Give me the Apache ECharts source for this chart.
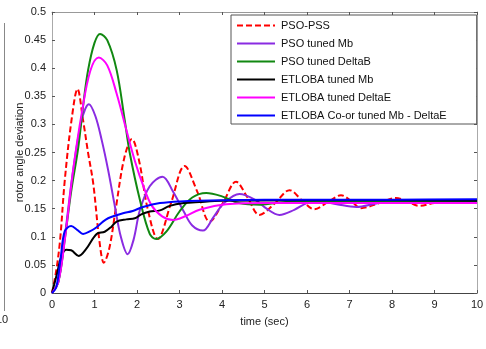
<!DOCTYPE html>
<html>
<head>
<meta charset="utf-8">
<script src="https://cdn.jsdelivr.net/npm/echarts@6/dist/echarts.min.js"></script>
<style>
html,body{margin:0;padding:0;background:#fff;}
#chart{width:486px;height:349px;}
</style>
</head>
<body>
<div id="chart"></div>
<script>
var seriesNames = ['PSO-PSS','PSO tuned Mb','PSO tuned DeltaB','ETLOBA tuned Mb','ETLOBA tuned DeltaE','ETLOBA Co-or tuned Mb - DeltaE'];

var tRed = [0,0.1,0.19,0.3,0.46,0.6,0.73,0.85,0.97,1.12,1.22,1.35,1.5,1.7,1.88,2.05,2.25,2.49,2.8,3.12,3.42,3.71,4.02,4.33,4.6,4.88,5.25,5.59,5.88,6.17,6.5,6.8,7.05,7.27,7.7,8.09,8.35,8.64,9.0,9.5,10];
var vRed = [0,0.04,0.094,0.2,0.308,0.363,0.308,0.249,0.195,0.09,0.054,0.08,0.15,0.24,0.274,0.235,0.15,0.096,0.16,0.226,0.18,0.127,0.16,0.198,0.17,0.139,0.16,0.183,0.165,0.149,0.162,0.174,0.163,0.151,0.16,0.169,0.163,0.155,0.16,0.163,0.162];

var tPurple = [0,0.15,0.3,0.5,0.7,0.87,1.02,1.17,1.32,1.48,1.62,1.78,1.92,2.07,2.3,2.6,2.85,3.1,3.3,3.55,3.8,4.05,4.41,4.8,5.05,5.35,5.7,6.0,6.3,6.7,7.16,7.7,8.5,10];
var vPurple = [0,0.02,0.1,0.22,0.308,0.336,0.315,0.272,0.219,0.154,0.1,0.069,0.095,0.148,0.19,0.207,0.18,0.145,0.12,0.111,0.135,0.16,0.176,0.165,0.15,0.139,0.148,0.16,0.163,0.158,0.153,0.16,0.162,0.162];

var tGreen = [0,0.15,0.3,0.45,0.62,0.74,0.85,1.0,1.13,1.3,1.52,1.71,1.83,2.07,2.3,2.45,2.7,3.0,3.3,3.63,4.0,4.4,4.9,5.5,6.5,10];
var vGreen = [0,0.02,0.095,0.18,0.26,0.338,0.397,0.445,0.461,0.45,0.397,0.308,0.249,0.165,0.105,0.096,0.11,0.145,0.17,0.178,0.172,0.16,0.157,0.162,0.163,0.162];

var tBlack = [0,0.12,0.22,0.33,0.45,0.63,0.8,1.05,1.24,1.4,1.52,1.75,1.95,2.1,2.3,2.54,2.77,3.1,3.47,4,6,8,10];
var vBlack = [0,0.035,0.065,0.077,0.076,0.066,0.078,0.105,0.109,0.118,0.127,0.131,0.133,0.14,0.145,0.147,0.155,0.16,0.162,0.164,0.165,0.165,0.164];

var tMagenta = [0,0.15,0.3,0.5,0.7,0.9,1.1,1.3,1.52,1.75,1.95,2.15,2.35,2.6,2.85,3.15,3.47,4.1,5,7,10];
var vMagenta = [0,0.02,0.094,0.22,0.32,0.395,0.419,0.405,0.355,0.29,0.235,0.19,0.155,0.136,0.13,0.137,0.148,0.158,0.16,0.16,0.16];

var tBlue = [0,0.1,0.2,0.3,0.45,0.6,0.73,0.9,1.05,1.2,1.32,1.5,1.67,1.9,2.14,2.54,3.0,4,6,8,10];
var vBlue = [0,0.01,0.06,0.11,0.119,0.112,0.105,0.11,0.117,0.127,0.133,0.138,0.142,0.146,0.153,0.16,0.163,0.165,0.166,0.166,0.167];

var xTicks = [0,1,2,3,4,5,6,7,8,9,10];
var yTicks = [0,0.05,0.1,0.15,0.2,0.25,0.3,0.35,0.4,0.45,0.5];

function pairs(t, v){ return t.map(function(x,i){ return [x, v[i]]; }); }

var dataSets = [
  {t:tRed, v:vRed, color:'#ff0000', type:'dashed'},
  {t:tPurple, v:vPurple, color:'#8a2be2', type:'solid'},
  {t:tGreen, v:vGreen, color:'#118811', type:'solid'},
  {t:tBlack, v:vBlack, color:'#000000', type:'solid'},
  {t:tMagenta, v:vMagenta, color:'#ff00ff', type:'solid'},
  {t:tBlue, v:vBlue, color:'#0000ff', type:'solid'}
];

var FONT = 'Liberation Sans, Arial, sans-serif';
var chart = echarts.init(document.getElementById('chart'), null, {renderer:'canvas'});

var series = dataSets.map(function(d, i){
  return {
    name: seriesNames[i],
    type: 'line',
    data: pairs(d.t, d.v),
    smooth: 0.35,
    symbol: 'none',
    showSymbol: false,
    lineStyle: {color: d.color, width: 2, type: d.type === 'dashed' ? [6,3] : 'solid'},
    itemStyle: {color: d.color},
    z: 2 + i,
    animation: false
  };
});

var axisCommon = {
  min: 0,
  splitLine: {show: false},
  axisTick: {inside: true, length: 3, lineStyle: {color: '#555'}},
  axisLabel: {fontFamily: FONT, fontSize: 11, color: '#222', margin: 6}
};

var option = {
  animation: false,
  backgroundColor: '#ffffff',
  grid: {left: 52, right: 9, top: 12, bottom: 56, containLabel: false, outerBoundsMode: 'none'},
  xAxis: [
    Object.assign({}, axisCommon, {
      type: 'value', position: 'bottom', max: 10, interval: 1,
      axisLine: {show: true, onZero: false, lineStyle: {color: '#444', width: 1}},
      name: 'time (sec)', nameLocation: 'middle', nameGap: 23, nameMoveOverlap: false,
      nameTextStyle: {fontFamily: FONT, fontSize: 11, color: '#222'},
      axisLabel: {fontFamily: FONT, fontSize: 11, color: '#222', margin: 6,
        formatter: function(v){ return xTicks.indexOf(v) >= 0 ? String(v) : ''; }}
    }),
    Object.assign({}, axisCommon, {
      type: 'value', position: 'top', max: 10, interval: 1,
      axisLine: {show: true, onZero: false, lineStyle: {color: '#999', width: 1}},
      axisLabel: {show: false}
    })
  ],
  yAxis: [
    Object.assign({}, axisCommon, {
      type: 'value', position: 'left', max: 0.5, interval: 0.05,
      axisLine: {show: true, onZero: false, lineStyle: {color: '#aaa', width: 1}},
      name: 'rotor angle deviation', nameLocation: 'middle', nameGap: 27, nameMoveOverlap: false,
      nameTextStyle: {fontFamily: FONT, fontSize: 11, color: '#222'},
      axisLabel: {fontFamily: FONT, fontSize: 11, color: '#222', margin: 6,
        formatter: function(v){
          for (var k = 0; k < yTicks.length; k++) { if (Math.abs(yTicks[k]-v) < 1e-9) return String(yTicks[k]); }
          return '';
        }}
    }),
    Object.assign({}, axisCommon, {
      type: 'value', position: 'right', max: 0.5, interval: 0.05,
      axisLine: {show: true, onZero: false, lineStyle: {color: '#aaa', width: 1}},
      axisLabel: {show: false}
    })
  ],
  legend: {
    show: true,
    orient: 'vertical',
    left: 231, top: 15,
    padding: [5, 30, 3, 5],
    itemGap: 7,
    itemWidth: 38,
    itemHeight: 10,
    backgroundColor: '#ffffff',
    borderColor: '#555',
    borderWidth: 1,
    borderRadius: 0,
    itemStyle: {opacity: 0, borderWidth: 0},
    textStyle: {fontFamily: FONT, fontSize: 11, color: '#111', padding: [0,0,0,1]},
    data: seriesNames
  },
  graphic: [
    {type: 'line', shape: {x1: 4.5, y1: 23, x2: 4.5, y2: 311}, style: {stroke: '#888', lineWidth: 1}, silent: true},
    {type: 'text', left: -4, top: 314, style: {text: '10', font: '11px Liberation Sans, Arial', fill: '#222'}, silent: true}
  ],
  series: series
};

chart.setOption(option);
</script>
</body>
</html>
